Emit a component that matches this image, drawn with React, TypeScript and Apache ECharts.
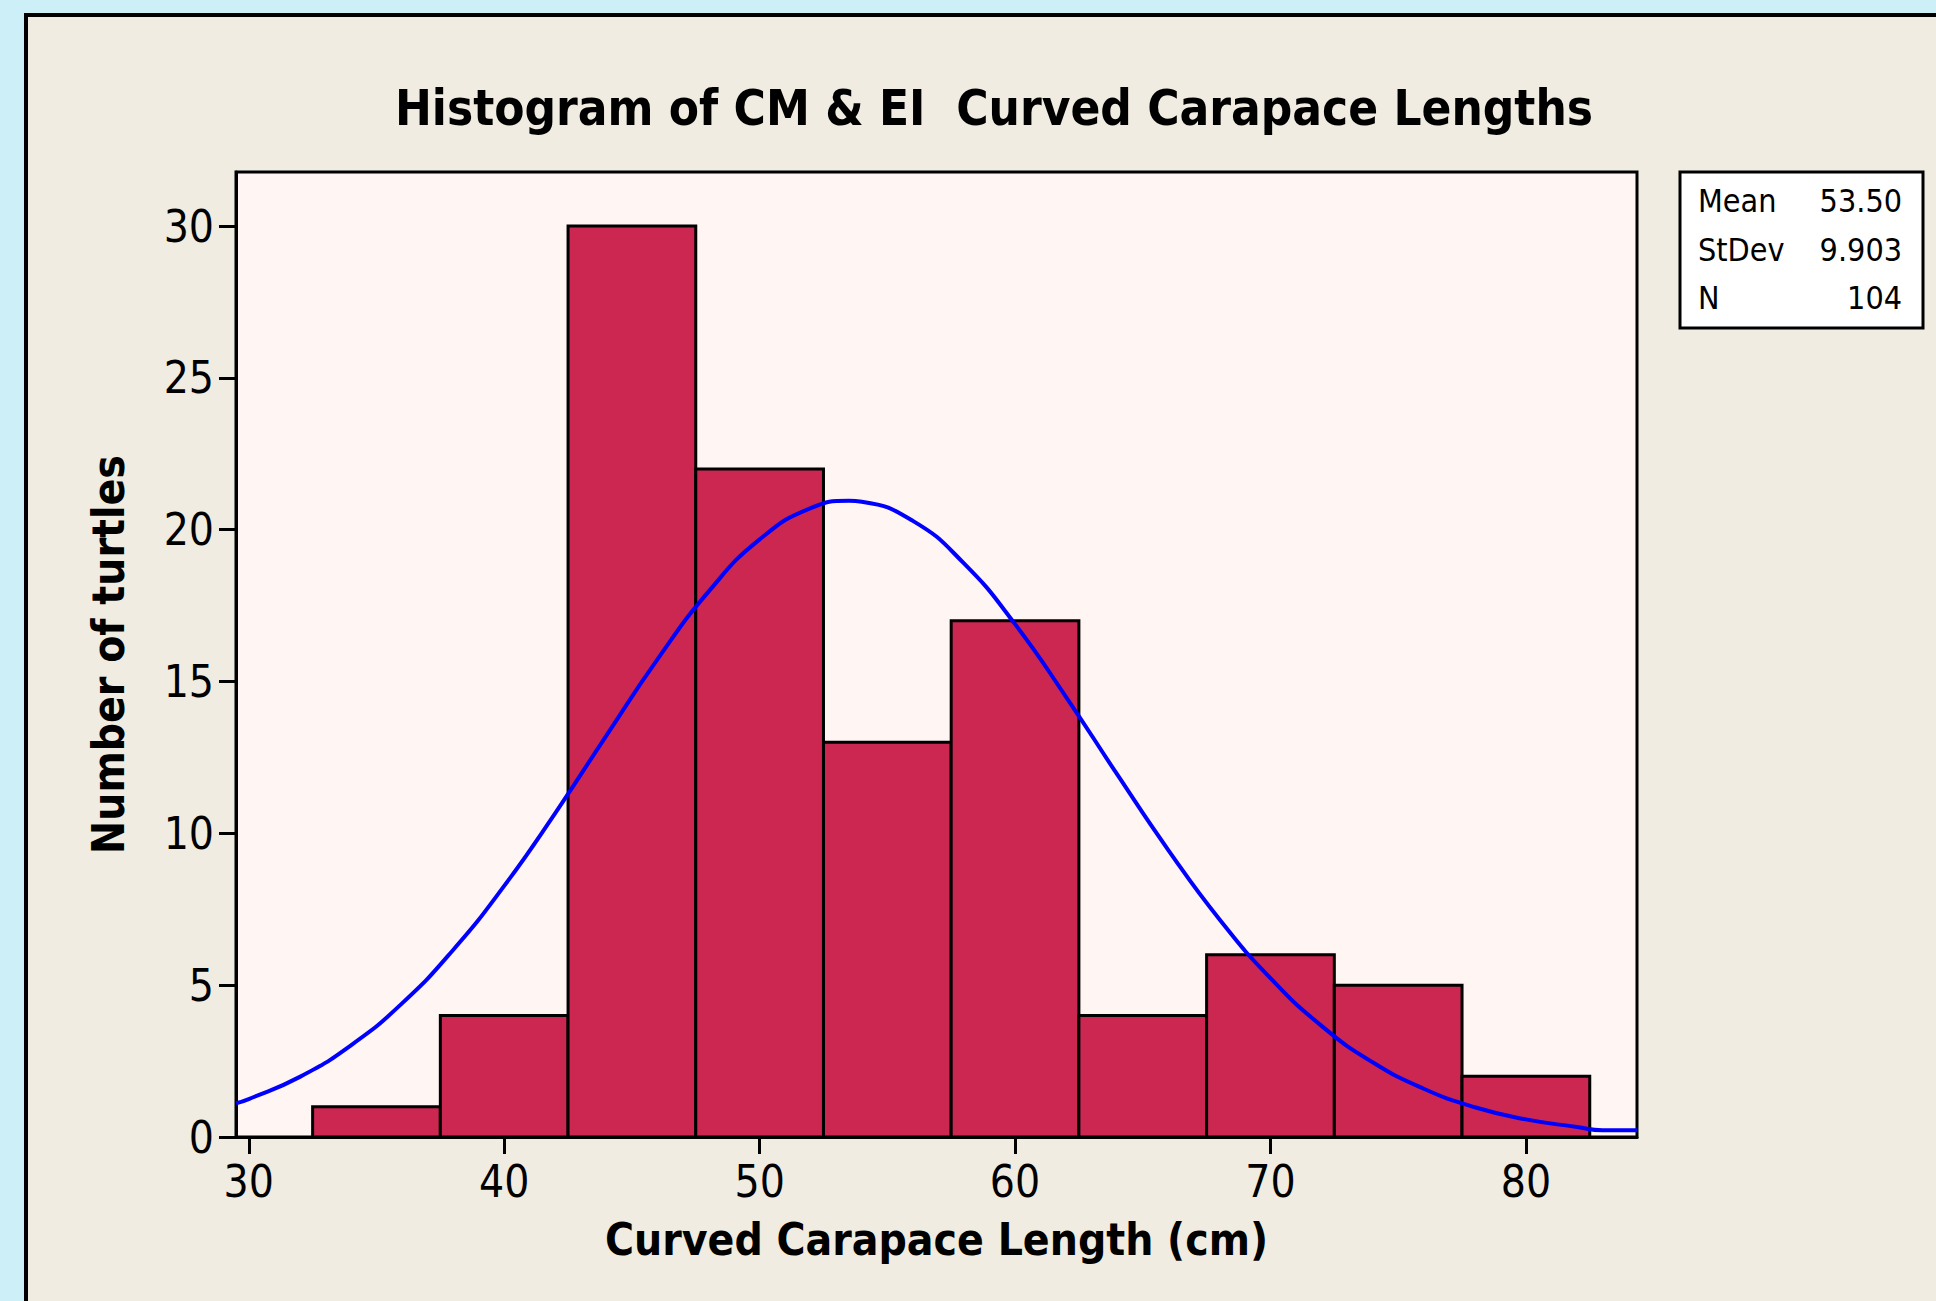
import React, { useEffect, useRef } from "react";
import * as echarts from "echarts";

const binStarts = [32.5, 37.5, 42.5, 47.5, 52.5, 57.5, 62.5, 67.5, 72.5, 77.5];
const binEnds = [37.5, 42.5, 47.5, 52.5, 57.5, 62.5, 67.5, 72.5, 77.5, 82.5];
const counts = [1, 4, 30, 22, 13, 17, 4, 6, 5, 2];

const curveX = [29.5, 30, 32, 34, 36, 38, 40, 42, 44, 46, 48, 50, 52, 53.5, 54, 56, 58, 60, 62, 64, 66, 68, 70, 72, 74, 76, 78, 80, 82, 83, 84.35];
const curveY = [1.11, 1.25, 1.98, 3.02, 4.4, 6.16, 8.27, 10.67, 13.22, 15.73, 17.96, 19.68, 20.71, 20.95, 20.92, 20.29, 18.89, 16.89, 14.49, 11.94, 9.45, 7.17, 5.23, 3.66, 2.46, 1.59, 0.98, 0.58, 0.33, 0.22, 0.22];

const xTicks = [30, 40, 50, 60, 70, 80];
const yTicks = [0, 5, 10, 15, 20, 25, 30];

const statLabels = ["Mean", "StDev", "N"];
const statValues = ["53.50", "9.903", "104"];

const TITLE = "Histogram of CM & EI  Curved Carapace Lengths";
const X_NAME = "Curved Carapace Length (cm)";
const Y_NAME = "Number of turtles";

const FONT = "'DejaVu Sans Condensed', 'DejaVu Sans', sans-serif";

export default function App() {
  const ref = useRef<HTMLDivElement>(null);

  useEffect(() => {
    document.body.style.margin = "0";
    document.body.style.overflow = "hidden";
    const chart = echarts.init(ref.current!, null, { renderer: "svg" });

    const barData = binStarts.map((s, i) => [s, binEnds[i], counts[i]]);
    const lineData = curveX.map((x, i) => [x, curveY[i]]);

    const statTexts: any[] = [];
    statLabels.forEach((lab, i) => {
      const cy = 201 + i * 48.5;
      statTexts.push({
        type: "text",
        z: 20,
        x: 1698,
        y: cy,
        style: {
          text: lab,
          fontSize: 32,
          fontFamily: FONT,
          fill: "#000",
          align: "left",
          verticalAlign: "middle",
          textAlign: "left",
          textVerticalAlign: "middle",
        },
      });
      statTexts.push({
        type: "text",
        z: 20,
        x: 1902,
        y: cy,
        style: {
          text: statValues[i],
          fontSize: 32,
          fontFamily: FONT,
          fill: "#000",
          align: "right",
          verticalAlign: "middle",
          textAlign: "right",
          textVerticalAlign: "middle",
        },
      });
    });

    const option: any = {
      animation: false,
      backgroundColor: "#CCEFF8",
      title: {
        text: TITLE,
        left: 994,
        top: 84,
        padding: 0,
        textAlign: "center",
        textStyle: {
          fontFamily: FONT,
          fontWeight: "bold",
          fontSize: 49,
          color: "#000",
        },
      },
      graphic: [
        {
          type: "rect",
          z: -10,
          silent: true,
          shape: { x: 26, y: 15, width: 2000, height: 1400 },
          style: { fill: "#F0ECE1", stroke: "#000", lineWidth: 4 },
        },
        {
          type: "rect",
          z: 15,
          silent: true,
          shape: { x: 1680, y: 172, width: 243, height: 156 },
          style: { fill: "#FFFFFF", stroke: "#000", lineWidth: 3 },
        },
        ...statTexts,
      ],
      grid: {
        left: 236,
        top: 172,
        width: 1401,
        height: 965,
        show: true,
        backgroundColor: "#FFF5F3",
        borderColor: "#000",
        borderWidth: 3,
        containLabel: false,
      },
      xAxis: {
        type: "value",
        min: 29.5,
        max: 84.35,
        name: X_NAME,
        nameLocation: "middle",
        nameGap: 80,
        nameTextStyle: {
          fontFamily: FONT,
          fontWeight: "bold",
          fontSize: 44,
          color: "#000",
        },
        axisLine: { show: true, onZero: false, lineStyle: { color: "#000", width: 3 } },
        axisTick: {
          show: true,
          inside: false,
          length: 17,
          lineStyle: { color: "#000", width: 3 },
          customValues: xTicks,
        },
        axisLabel: {
          customValues: xTicks,
          fontFamily: FONT,
          fontSize: 44,
          color: "#000",
          margin: 22,
        },
        splitLine: { show: false },
      },
      yAxis: {
        type: "value",
        min: 0,
        max: 31.78,
        name: Y_NAME,
        nameLocation: "middle",
        nameGap: 106,
        nameRotate: 90,
        nameTextStyle: {
          fontFamily: FONT,
          fontWeight: "bold",
          fontSize: 44,
          color: "#000",
        },
        axisLine: { show: true, onZero: false, lineStyle: { color: "#000", width: 3 } },
        axisTick: {
          show: true,
          inside: false,
          length: 17,
          lineStyle: { color: "#000", width: 3 },
          customValues: yTicks,
        },
        axisLabel: {
          customValues: yTicks,
          fontFamily: FONT,
          fontSize: 44,
          color: "#000",
          margin: 22,
        },
        splitLine: { show: false },
      },
      series: [
        {
          type: "custom",
          z: 2,
          data: barData,
          encode: { x: [0, 1], y: 2 },
          renderItem: (params: any, api: any) => {
            const x0 = api.value(0);
            const x1 = api.value(1);
            const c = api.value(2);
            const p0 = api.coord([x0, c]);
            const p1 = api.coord([x1, 0]);
            return {
              type: "rect",
              shape: { x: p0[0], y: p0[1], width: p1[0] - p0[0], height: p1[1] - p0[1] },
              style: { fill: "#CB2750", stroke: "#000", lineWidth: 3 },
            };
          },
        },
        {
          type: "line",
          z: 3,
          data: lineData,
          smooth: true,
          showSymbol: false,
          symbol: "none",
          lineStyle: { color: "#0000FF", width: 4 },
        },
      ],
    };

    chart.setOption(option);
    return () => chart.dispose();
  }, []);

  return <div ref={ref} style={{ width: 1936, height: 1301 }} />;
}
